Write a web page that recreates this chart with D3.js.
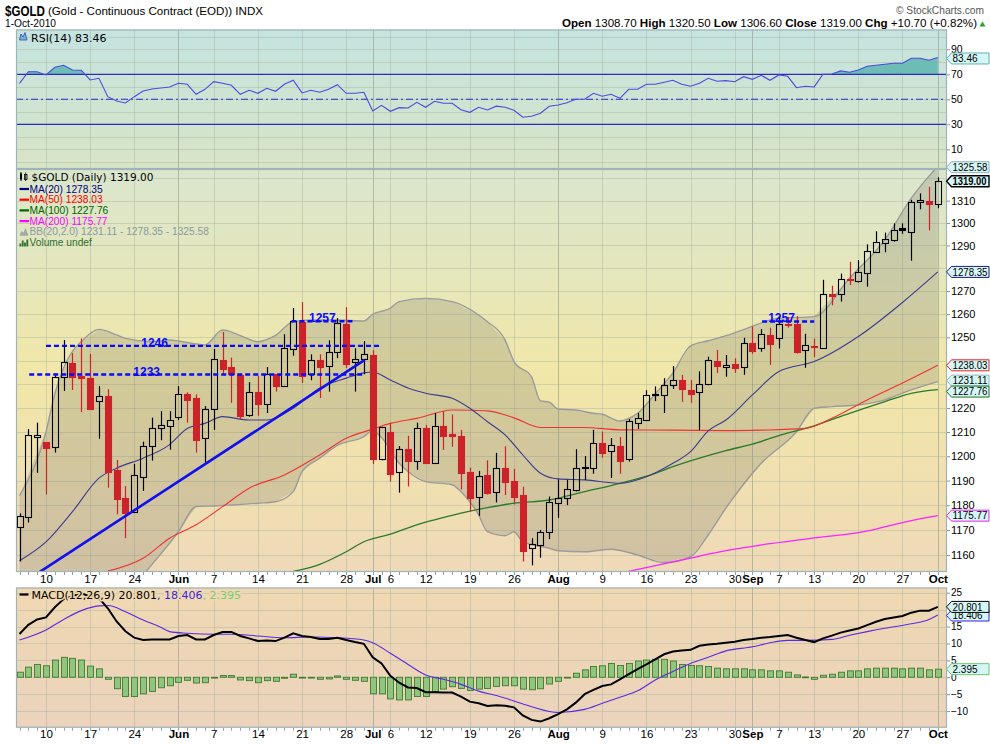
<!DOCTYPE html>
<html><head><meta charset="utf-8">
<script src="https://cdn.jsdelivr.net/npm/d3@7"></script>
<style>body{margin:0;background:#fff}svg{display:block}</style>
</head><body>
<svg id="c" width="990" height="744"></svg>
<script>
// ---------- DATA ----------
const dates = ["2010-05-05","2010-05-06","2010-05-07","2010-05-10","2010-05-11","2010-05-12","2010-05-13","2010-05-14","2010-05-17","2010-05-18","2010-05-19","2010-05-20","2010-05-21","2010-05-24","2010-05-25","2010-05-26","2010-05-27","2010-05-28",
"2010-06-01","2010-06-02","2010-06-03","2010-06-04","2010-06-07","2010-06-08","2010-06-09","2010-06-10","2010-06-11","2010-06-14","2010-06-15","2010-06-16","2010-06-17","2010-06-18","2010-06-21","2010-06-22","2010-06-23","2010-06-24","2010-06-25","2010-06-28","2010-06-29","2010-06-30",
"2010-07-01","2010-07-02","2010-07-06","2010-07-07","2010-07-08","2010-07-09","2010-07-12","2010-07-13","2010-07-14","2010-07-15","2010-07-16","2010-07-19","2010-07-20","2010-07-21","2010-07-22","2010-07-23","2010-07-26","2010-07-27","2010-07-28","2010-07-29","2010-07-30",
"2010-08-02","2010-08-03","2010-08-04","2010-08-05","2010-08-06","2010-08-09","2010-08-10","2010-08-11","2010-08-12","2010-08-13","2010-08-16","2010-08-17","2010-08-18","2010-08-19","2010-08-20","2010-08-23","2010-08-24","2010-08-25","2010-08-26","2010-08-27","2010-08-30","2010-08-31",
"2010-09-01","2010-09-02","2010-09-03","2010-09-07","2010-09-08","2010-09-09","2010-09-10","2010-09-13","2010-09-14","2010-09-15","2010-09-16","2010-09-17","2010-09-20","2010-09-21","2010-09-22","2010-09-23","2010-09-24","2010-09-27","2010-09-28","2010-09-29","2010-09-30",
"2010-10-01"];

const open = [1171.3,1175.1,1208.0,1205.9,1203.7,1232.9,1238.9,1233.6,1232.5,1222.8,1225.0,1194.2,1182.9,1177.3,1191.5,1204.1,1211.6,1212.4,1216.1,1225.7,1224.1,1207.4,1219.8,1240.2,1237.3,1233.9,1216.9,1226.6,1221.6,1234.2,1229.3,1245.0,1256.5,1234.5,1240.2,1237.9,1243.5,1255.7,1239.5,1240.5,1242.4,1199.0,1210.0,1193.4,1202.9,1198.2,1211.6,1197.4,1212.4,1209.1,1208.5,1193.4,1183.5,1192.4,1185.5,1195.3,1190.0,1184.3,1162.6,1163.8,1169.0,1180.8,1182.8,1186.0,1195.0,1195.2,1205.3,1202.1,1204.1,1198.8,1213.8,1214.9,1226.0,1225.3,1229.5,1232.0,1227.5,1226.6,1230.2,1239.7,1237.5,1238.4,1237.4,1247.4,1245.2,1251.1,1249.8,1255.8,1255.7,1244.4,1246.3,1245.5,1268.6,1268.6,1275.1,1274.3,1278.0,1287.0,1291.2,1292.3,1297.6,1296.1,1309.4,1309.9,1308.7];
const high = [1176.7,1211.2,1213.9,1205.9,1234.5,1248.8,1243.2,1249.5,1242.9,1229.2,1227.9,1198.5,1187.8,1196.9,1206.0,1216.0,1218.7,1218.7,1229.2,1226.6,1225.7,1220.8,1245.0,1252.3,1241.3,1234.7,1230.9,1233.6,1237.3,1234.2,1251.3,1262.6,1265.2,1242.7,1242.7,1248.7,1258.2,1263.0,1245.3,1248.4,1244.5,1212.0,1213.9,1204.2,1208.4,1213.9,1213.0,1217.9,1218.7,1217.3,1210.9,1195.3,1194.0,1198.3,1201.4,1204.1,1194.8,1187.5,1166.7,1170.0,1183.5,1190.5,1190.3,1202.9,1200.1,1210.9,1210.2,1207.5,1207.9,1215.4,1218.0,1227.5,1229.1,1232.6,1237.7,1234.0,1231.8,1235.5,1241.7,1244.6,1242.4,1241.0,1249.8,1254.7,1253.5,1254.1,1258.9,1258.8,1259.1,1251.5,1249.4,1274.9,1272.3,1277.6,1282.8,1283.6,1290.5,1296.3,1295.7,1299.8,1299.8,1310.4,1313.3,1316.2,1320.5];
const low = [1157.4,1173.0,1193.2,1184.4,1201.5,1227.2,1227.6,1218.3,1219.5,1207.2,1187.1,1176.3,1166.7,1177.0,1185.8,1198.2,1206.6,1202.7,1215.0,1213.9,1201.5,1197.4,1210.9,1234.2,1222.2,1215.3,1216.4,1216.8,1217.9,1226.9,1229.3,1242.1,1230.6,1231.7,1224.2,1226.9,1241.1,1236.8,1226.9,1234.2,1196.8,1198.3,1189.6,1185.1,1187.6,1194.4,1196.8,1196.8,1202.6,1203.9,1186.4,1177.5,1175.7,1184.3,1181.1,1184.1,1180.3,1157.4,1155.9,1158.9,1166.3,1174.9,1180.0,1185.6,1190.3,1192.8,1199.4,1191.1,1192.8,1197.8,1211.3,1214.9,1222.9,1217.9,1228.0,1222.6,1222.2,1210.8,1229.6,1234.7,1233.2,1234.8,1234.0,1242.9,1243.8,1238.2,1245.2,1254.1,1243.0,1237.0,1241.5,1245.2,1263.8,1265.4,1272.6,1273.7,1271.9,1286.7,1287.0,1291.7,1295.2,1283.3,1306.1,1296.7,1306.6];
const close = [1175.6,1208.7,1208.8,1203.2,1232.9,1239.3,1232.9,1232.7,1219.5,1224.9,1193.6,1182.6,1176.9,1192.1,1204.1,1211.5,1212.8,1214.9,1225.7,1223.5,1206.8,1219.8,1240.7,1236.6,1234.2,1216.8,1226.6,1221.6,1234.5,1229.3,1245.3,1256.9,1233.7,1240.2,1237.3,1243.5,1256.0,1238.6,1240.5,1242.7,1199.0,1212.0,1192.8,1202.9,1198.2,1211.6,1197.4,1212.4,1208.5,1208.3,1193.3,1182.9,1192.0,1185.1,1195.3,1189.6,1183.3,1161.7,1164.2,1169.0,1181.2,1182.8,1186.6,1195.2,1195.4,1205.3,1201.5,1204.5,1198.2,1214.6,1215.7,1225.5,1225.6,1229.5,1232.0,1227.9,1226.0,1230.2,1240.2,1237.9,1238.1,1237.0,1247.4,1244.3,1251.4,1247.1,1255.6,1255.2,1243.8,1246.6,1245.8,1268.6,1268.0,1275.3,1274.7,1278.2,1287.4,1291.4,1292.7,1296.7,1296.9,1309.3,1310.3,1308.3,1319.0];

// overlays (read at sampled trading-day indices)
const ma20Idx = [0,3,6,9,11,14,17,19,21,23,26,28,31,34,37,39,40,42,44,46,49,51,53,55,57,59,61,64,68,71,74,76,78,80,83,86,90,95,100,104];
const ma20Val = [1157.7,1165.2,1177.4,1191.0,1195.1,1199.2,1204.8,1211.5,1213.6,1216.4,1215.0,1215.0,1219.9,1228.4,1232.6,1234.8,1235.2,1231.8,1228.4,1226.2,1224.1,1219.9,1214.3,1208.8,1200.5,1193.0,1190.7,1190.3,1188.9,1191.6,1197.1,1201.9,1210.5,1215.0,1225.5,1235.4,1239.6,1250.3,1265.0,1278.35];
const ma50Idx = [10,14,17,20,23,26,30,34,37,40,42,45,49,51,53,56,59,64,68,74,80,84,89,92,96,100,104];
const ma50Val = [1153.6,1158.7,1166.7,1172.1,1179.4,1186.9,1192.3,1200.5,1207.4,1211.2,1213.6,1215.7,1219.2,1219.1,1218.8,1215.9,1211.9,1211.9,1210.9,1210.8,1210.6,1210.8,1211.5,1215.7,1223.4,1230.5,1238.03];
const ma100Idx = [31,34,37,39,42,45,47,50,53,56,60,64,68,72,74,77,80,83,86,90,94,98,101,104];
const ma100Val = [1153.5,1156.3,1161.3,1165.3,1168.3,1172.1,1174.1,1176.8,1179.0,1180.8,1182.1,1185.5,1188.9,1193.0,1195.7,1199.2,1202.3,1205.0,1208.5,1212.6,1217.8,1222.7,1226.2,1227.76];
const ma200Idx = [69,72,76,80,85,90,95,101,104];
const ma200Val = [1153.5,1155.8,1158.8,1161.7,1164.5,1166.8,1168.9,1173.8,1175.77];
const bbUpIdx = [0,3,4,5,6,7,9,11,12,15,17,18,21,23,25,27,29,31,33,36,39,40,42,43,46,49,52,53,55,56,58,59,60,61,63,65,66,68,70,72,74,76,78,80,82,86,90,94,98,101,104];
const bbUpVal = [1183.9,1210.1,1226.0,1237.0,1244.0,1248.1,1253.4,1251.0,1249.5,1248.1,1248.8,1248.4,1246.7,1253.1,1250.7,1248.1,1250.8,1256.7,1257.4,1257.4,1257.0,1259.9,1262.5,1265.4,1266.8,1265.4,1259.6,1256.7,1248.8,1239.6,1233.0,1223.0,1222.5,1219.6,1219.2,1217.8,1217.4,1214.6,1217.8,1226.0,1234.8,1246.3,1248.5,1250.7,1253.3,1258.2,1258.9,1275.6,1292.5,1311.1,1325.58];
const bbLoIdx = [0,3,6,9,11,14,18,20,22,24,27,29,31,32,34,36,39,40,41,43,44,46,49,50,52,53,55,56,57,60,61,64,67,70,73,76,78,80,84,88,90,92,95,98,99,101,104];
const bbLoVal = [1132.0,1120.0,1110.0,1129.0,1139.0,1152.0,1169.3,1179.4,1179.7,1180.1,1180.8,1181.4,1185.5,1193.7,1199.2,1204.5,1208.1,1210.6,1207.7,1197.1,1193.7,1189.6,1188.3,1185.5,1176.1,1169.3,1167.7,1169.3,1165.3,1162.7,1161.7,1161.3,1162.3,1160.0,1157.0,1159.3,1168.0,1178.8,1197.1,1210.1,1219.9,1220.6,1221.3,1223.4,1224.8,1227.6,1231.11];

// indicators
const rsi = [62.8,72.1,72.1,69.5,75.6,77.2,73.5,73.2,65.5,66.8,52.1,48.7,47.1,52.1,56.7,58.3,59.1,59.9,62.8,62.0,54.0,58.0,64.1,62.8,61.2,54.0,57.2,54.8,58.8,56.4,62.0,65.2,55.1,57.2,55.6,58.0,61.7,54.8,54.8,55.6,40.7,45.2,40.4,43.3,43.1,47.6,43.6,48.4,46.8,46.8,41.7,39.6,43.6,41.5,44.5,43.6,41.2,35.7,36.4,38.8,44.4,45.5,47.3,50.0,50.0,54.8,52.4,54.0,50.8,58.0,58.0,62.0,62.0,63.6,65.2,62.0,60.4,62.8,66.8,64.4,64.9,64.1,68.1,66.0,69.2,65.2,69.5,68.4,59.3,60.4,59.9,70.0,70.3,72.7,71.6,73.5,76.4,77.2,78.0,78.8,78.8,82.8,82.8,81.2,83.46];
const macd = [12.8,15.5,17.1,17.7,20.7,23.1,24.0,24.8,23.9,23.4,20.4,16.5,13.6,11.7,11.0,11.2,11.2,11.2,12.2,12.5,11.2,11.2,12.5,13.4,13.4,12.2,11.5,10.7,10.9,10.7,11.7,13.0,12.2,11.9,11.3,11.3,11.7,11.0,10.4,9.9,5.9,4.1,0.4,-1.6,-3.0,-3.2,-4.4,-4.4,-4.5,-4.5,-5.7,-7.2,-7.7,-8.5,-8.3,-8.4,-8.9,-11.3,-12.6,-13.1,-12.1,-10.9,-9.5,-7.5,-5.0,-3.7,-2.6,-2.1,-0.6,0.9,2.4,3.8,5.3,6.8,7.6,7.9,8.1,9.3,9.7,9.9,10.2,10.5,11.0,11.3,11.7,11.9,12.2,12.5,11.7,11.0,10.4,11.5,12.3,13.2,13.8,14.4,15.4,16.4,17.2,17.7,18.1,19.1,19.7,19.7,20.801];
const macdHist = [1.5,3.0,3.8,3.4,5.1,5.9,5.6,5.1,3.3,2.5,-0.6,-3.4,-5.7,-5.7,-4.9,-4.2,-3.1,-2.5,-1.5,-0.9,-1.7,-1.6,-0.1,0.5,0.5,-0.8,-1.0,-1.6,-1.0,-1.2,-0.3,0.9,-0.1,-0.1,-0.6,-0.5,0.4,-0.6,-0.9,-1.2,-4.9,-4.9,-6.4,-6.7,-6.7,-5.7,-5.7,-4.2,-3.5,-2.8,-3.3,-3.9,-3.5,-3.3,-2.7,-2.5,-2.5,-3.5,-3.7,-3.4,-2.0,-1.2,-0.1,1.2,2.2,3.2,3.4,4.1,3.5,4.1,4.8,5.1,5.3,5.3,4.8,3.8,3.5,3.4,3.2,2.7,2.5,2.5,2.5,2.2,2.2,1.9,1.9,1.5,0.7,0.1,-0.6,0.6,0.9,1.5,1.9,1.9,2.5,2.7,2.7,2.7,2.5,2.7,2.7,2.2,2.395];
const sigIdx = [0,3,5,7,9,10,12,14,16,17,19,22,24,27,30,33,36,39,40,42,44,46,48,50,52,54,56,58,61,64,66,68,70,72,74,76,78,80,83,85,87,89,92,94,96,98,101,103,104];
const sigVal = [11.0,14.0,17.1,19.7,21.1,21.2,19.4,16.9,14.8,13.5,13.0,12.7,12.7,12.2,11.7,11.9,11.7,11.0,10.2,7.1,3.8,0.7,-0.6,-2.1,-4.1,-5.4,-7.0,-8.7,-10.4,-9.5,-7.7,-5.9,-4.0,-0.8,1.7,4.1,5.9,7.8,9.0,10.2,10.9,10.9,11.2,12.4,13.5,14.5,15.8,17.1,18.406];

// axis ticks
const tickDates = ["2010-05-10","2010-05-17","2010-05-24","2010-06-01","2010-06-07","2010-06-14","2010-06-21","2010-06-28","2010-07-01","2010-07-06","2010-07-12","2010-07-19","2010-07-26","2010-08-02","2010-08-09","2010-08-16","2010-08-23","2010-08-30","2010-09-01","2010-09-07","2010-09-13","2010-09-20","2010-09-27","2010-10-01"];
const tickLabels = ["10","17","24","Jun","7","14","21","28","Jul","6","12","19","26","Aug","9","16","23","30","Sep","7","13","20","27","Oct"];
const priceTicks = [1160,1170,1180,1190,1200,1210,1220,1250,1260,1270,1290,1300,1310];
const rsiTicks = [10,30,50,70,90];
const macdTicks = [-10,-5,0,5,10,15,25];

// annotations (price levels drawn by the chartist, and trendline)
const levelLabels = ["1246","1233","1257","1257"];
const levelPrice = [1246.3,1234.1,1256.9,1256.8];
const levelFrom = [3.0,1.1,30.8,84.1];
const levelTo = [40.8,38.9,38.0,90.0];
const levelLabelAt = [15.3,14.4,34.3,86.3];
const trendIdx = [2.13,39.1];
const trendVal = [1152.9,1240.3];

// ---------- LAYOUT ----------
const svg = d3.select('#c');
const X0 = 16, X1 = 947;
const P = {rsi:{t:29.5,b:169}, main:{t:169,b:572}, macd:{t:587.5,b:727.7}};
const x = d3.scaleLinear().domain([0,104]).range([19.5,937.8]);
const yRsi = d3.scaleLinear().domain([30,70]).range([124.3,74.3]);
const yMain = d3.scaleLog().domain([1160,1310]).range([555.0,200.65]);
const yMacd = d3.scaleLinear().domain([-10,25]).range([711.1,592.7]);
const tickIdx = tickDates.map(d=>dates.indexOf(d));
const isMonth = tickLabels.map(l=>isNaN(+l));
const SANS = "'Liberation Sans', Arial, sans-serif";
const VERD = "'DejaVu Sans', Verdana, sans-serif";

const defs = svg.append('defs');
function grad(id, stops){
  const g = defs.append('linearGradient').attr('id',id).attr('x1',0).attr('y1',0).attr('x2',0).attr('y2',1);
  stops.forEach(s=>g.append('stop').attr('offset',s[0]).attr('stop-color',s[1]));
}
grad('gRsi',[[0,'#c4e4e0'],[1,'#d8e4c6']]);
grad('gMain',[[0,'#dae6cd'],[0.3,'#e7e7b9'],[0.5,'#f1e7a8'],[0.8,'#f0dfb1'],[1,'#efd9b8']]);
grad('gMacd',[[0,'#efd8b1'],[1,'#ebd3bd']]);
Object.entries(P).forEach(([k,p])=>{
  defs.append('clipPath').attr('id','clip_'+k).append('rect').attr('x',X0).attr('y',p.t).attr('width',X1-X0).attr('height',p.b-p.t);
});

// panel backgrounds
svg.append('rect').attr('x',X0).attr('y',P.rsi.t).attr('width',X1-X0).attr('height',P.rsi.b-P.rsi.t).attr('fill','url(#gRsi)');
svg.append('rect').attr('x',X0).attr('y',P.main.t).attr('width',X1-X0).attr('height',P.main.b-P.main.t).attr('fill','url(#gMain)');
svg.append('rect').attr('x',X0).attr('y',P.macd.t).attr('width',X1-X0).attr('height',P.macd.b-P.macd.t).attr('fill','url(#gMacd)');

// grids
function vgrid(p){
  const g = svg.append('g');
  tickIdx.forEach((ti,k)=>{
    const xx = Math.round(x(ti))+0.5;
    g.append('line').attr('x1',xx).attr('x2',xx).attr('y1',p.t).attr('y2',p.b)
      .attr('stroke',isMonth[k]?'#8f9c8c':'#a9b3a0').attr('stroke-opacity',isMonth[k]?0.6:0.45).attr('stroke-width',1);
  });
}
function hgrid(p, scale, vals){
  const g = svg.append('g');
  vals.forEach(v=>{
    const yy = Math.round(scale(v))+0.5;
    if (yy<p.t||yy>p.b) return;
    g.append('line').attr('x1',X0).attr('x2',X1).attr('y1',yy).attr('y2',yy)
      .attr('stroke','#a9b3a0').attr('stroke-opacity',0.45);
  });
}
vgrid(P.rsi); vgrid(P.main); vgrid(P.macd);
hgrid(P.rsi, yRsi, d3.range(0,101,10));
hgrid(P.main, yMain, d3.range(1160,1321,10));
hgrid(P.macd, yMacd, d3.range(-10,26,5));

// ---------- RSI ----------
const gR = svg.append('g').attr('clip-path','url(#clip_rsi)');
defs.append('clipPath').attr('id','clipAbove70').append('rect').attr('x',X0).attr('y',P.rsi.t).attr('width',X1-X0).attr('height',yRsi(70)-P.rsi.t);
gR.append('path').datum(rsi).attr('clip-path','url(#clipAbove70)')
  .attr('d',d3.area().x((d,i)=>x(i)).y0(yRsi(70)).y1(d=>yRsi(d))).attr('fill','#6dbdb6');
[70,30].forEach(v=>gR.append('line').attr('x1',X0).attr('x2',X1).attr('y1',yRsi(v)).attr('y2',yRsi(v)).attr('stroke','#2b2bc4').attr('stroke-width',1.2));
gR.append('line').attr('x1',X0).attr('x2',X1).attr('y1',yRsi(50)).attr('y2',yRsi(50)).attr('stroke','#2b2bc4').attr('stroke-width',1.1).attr('stroke-dasharray','7,3,2,3');
gR.append('path').datum(rsi).attr('d',d3.line().x((d,i)=>x(i)).y(d=>yRsi(d))).attr('fill','none').attr('stroke','#4a4ae0').attr('stroke-width',1.1);

// ---------- MAIN ----------
const gM = svg.append('g').attr('clip-path','url(#clip_main)');
const up = bbUpIdx.map((d,k)=>[x(d),yMain(bbUpVal[k])]);
const lo = bbLoIdx.map((d,k)=>[x(d),yMain(bbLoVal[k])]);
const smooth = d3.line().curve(d3.curveMonotoneX);
gM.append('path').attr('d',d3.line()(up.concat(lo.slice().reverse()))+'Z').attr('fill','#7d7a6c').attr('fill-opacity',0.26);
gM.append('path').attr('d',smooth(up)).attr('fill','none').attr('stroke','#9a9c9c').attr('stroke-width',1.4);
gM.append('path').attr('d',smooth(lo)).attr('fill','none').attr('stroke','#9a9c9c').attr('stroke-width',1.4);
function maLine(idx, val, color, w){
  gM.append('path').attr('d',smooth(idx.map((d,k)=>[x(d),yMain(val[k])]))).attr('fill','none').attr('stroke',color).attr('stroke-width',w||1.1);
}
maLine(ma200Idx, ma200Val, '#ff22ff', 1.3);
maLine(ma100Idx, ma100Val, '#2a7a2a', 1.3);
maLine(ma50Idx, ma50Val, '#ee3333', 1.1);
maLine(ma20Idx, ma20Val, '#3c3c90', 1.1);

// candles
const gC = gM.append('g');
close.forEach((c,i)=>{
  const o=open[i], h=high[i], l=low[i];
  const prev = i>0?close[i-1]:c;
  const col = c>=prev ? '#000000' : '#cc2229';
  const filled = c<o;
  const xx = Math.round(x(i))+0.5;
  const yTop = yMain(Math.max(o,c)), yBot = yMain(Math.min(o,c));
  let bt = Math.round(yTop)+0.5, bb = Math.max(Math.round(yBot)+0.5, bt+1);
  gC.append('line').attr('x1',xx).attr('x2',xx).attr('y1',yMain(h)).attr('y2',bt).attr('stroke',col).attr('stroke-width',1.2);
  gC.append('line').attr('x1',xx).attr('x2',xx).attr('y1',bb).attr('y2',yMain(l)).attr('stroke',col).attr('stroke-width',1.2);
  gC.append('rect').attr('x',xx-3).attr('y',bt).attr('width',6).attr('height',bb-bt)
    .attr('fill',filled?col:'none').attr('stroke',col).attr('stroke-width',1.1);
});

// annotations
levelPrice.forEach((p,k)=>{
  gM.append('line').attr('x1',x(levelFrom[k])).attr('x2',x(levelTo[k])).attr('y1',yMain(p)).attr('y2',yMain(p))
    .attr('stroke','#0a0aff').attr('stroke-width',2.4).attr('stroke-dasharray','5,3');
  gM.append('text').attr('x',x(levelLabelAt[k])).attr('y',yMain(p)+1).attr('text-anchor','middle')
    .attr('font-family',SANS).attr('font-weight','bold').attr('font-size',12).attr('fill','#0a0aff').text(levelLabels[k]);
});
gM.append('line').attr('x1',x(trendIdx[0])).attr('y1',yMain(trendVal[0])).attr('x2',x(trendIdx[1])).attr('y2',yMain(trendVal[1]))
  .attr('stroke','#1010ee').attr('stroke-width',2.6);

// ---------- MACD ----------
const gD = svg.append('g').attr('clip-path','url(#clip_macd)');
macdHist.forEach((v,i)=>{
  const y0 = yMacd(0), y1 = yMacd(v);
  gD.append('rect').attr('x',Math.round(x(i))-2.5).attr('y',Math.min(y0,y1)).attr('width',6).attr('height',Math.max(Math.abs(y1-y0),0.8))
    .attr('fill','#8fc57c').attr('stroke','#3f7a30').attr('stroke-width',0.9);
});
gD.append('path').attr('d',smooth(sigIdx.map((d,k)=>[x(d),yMacd(sigVal[k])]))).attr('fill','none').attr('stroke','#5a2be0').attr('stroke-width',1.1);
gD.append('path').datum(macd).attr('d',d3.line().x((d,i)=>x(i)).y(d=>yMacd(d))).attr('fill','none').attr('stroke','#000').attr('stroke-width',2);

// panel borders
Object.values(P).forEach(p=>{
  svg.append('rect').attr('x',X0+0.5).attr('y',p.t+0.5).attr('width',X1-X0-1).attr('height',p.b-p.t-1)
    .attr('fill','none').attr('stroke','#9fb3ba').attr('stroke-width',1.2);
});

// day ticks under main and macd
[P.main.b, P.macd.b].forEach(yb=>{
  close.forEach((c,i)=>svg.append('line').attr('x1',Math.round(x(i))+0.5).attr('x2',Math.round(x(i))+0.5).attr('y1',yb).attr('y2',yb+3).attr('stroke','#8fa5ad'));
});

// x axes
function xAxis(y){
  const g = svg.append('g').attr('transform',`translate(0,${y})`)
    .call(d3.axisBottom(x).tickValues(tickIdx).tickSize(0).tickPadding(0).tickFormat((d,k)=>tickLabels[k]));
  g.select('.domain').remove();
  g.attr('font-family',SANS).attr('font-size',11.5);
  g.selectAll('text').attr('fill','#000').attr('dy','0.71em').attr('font-weight',(d,k)=>isMonth[k]?'bold':'normal');
}
xAxis(574.5); xAxis(729.5);

// right axes
function rAxis(scale, vals, fs){
  const g = svg.append('g').attr('transform',`translate(${X1},0)`)
    .call(d3.axisRight(scale).tickValues(vals).tickSize(3).tickPadding(1).tickFormat(d3.format('d')));
  g.select('.domain').remove();
  g.attr('font-family',SANS).attr('font-size',fs||11);
  g.selectAll('text').attr('fill','#000');
  g.selectAll('line').attr('stroke','#7f9ca6');
}
rAxis(yRsi, rsiTicks, 10.5); rAxis(yMain, priceTicks); rAxis(yMacd, macdTicks, 10);

// value boxes
function vbox(y, txt, stroke, bold){
  const g = svg.append('g');
  g.append('path').attr('d',`M${X1-0.5},${y} L${X1+4.5},${y-5.5} L989,${y-5.5} L989,${y+5.5} L${X1+4.5},${y+5.5} Z`)
    .attr('fill','#d6f6f6').attr('stroke',stroke).attr('stroke-width',bold?1.4:1);
  g.append('text').attr('x',X1+5.5).attr('y',y+3.6).attr('font-family',SANS).attr('font-size',bold?10.5:10)
    .attr('font-weight',bold?'bold':'normal').attr('fill','#000')
    .attr('textLength',txt.length*(bold?4.85:5.0)).attr('lengthAdjust','spacingAndGlyphs').text(txt);
}
vbox(yRsi(83.46)+1,'83.46','#5fb3b3');
vbox(yMain(1325.58)+1,'1325.58','#8fb3b8');
vbox(yMain(1319.00)+0.5,'1319.00','#000',true);
vbox(yMain(1278.35),'1278.35','#1a1a8a');
vbox(yMain(1238.03),'1238.03','#ee2222');
vbox(yMain(1231.11)-1,'1231.11','#8fb3b8');
vbox(yMain(1227.76)+2,'1227.76','#1c6e1c');
vbox(yMain(1175.77),'1175.77','#ee22ee');
vbox(yMacd(18.406)+0.5,'18.406','#3a1ee0');
vbox(yMacd(20.801),'20.801','#000');
vbox(yMacd(2.395),'2.395','#66cc66');

// ---------- LEGENDS ----------
function halo(sel, color){ return sel.attr('stroke',color).attr('stroke-width',3).attr('paint-order','stroke').attr('stroke-linejoin','round'); }
// RSI legend
svg.append('path').attr('d','M19.5,40 L21,34 L23,37 L25,32.5 L27,40 Z').attr('fill','#6dbdb6').attr('stroke','#3a3ad0').attr('stroke-width',0.8);
halo(svg.append('text').attr('x',31).attr('y',41.5).attr('font-family',VERD).attr('font-size',11).attr('fill','#000').text('RSI(14) 83.46'),'#c6e5e0');

// main legend
const lg = svg.append('g');
lg.append('rect').attr('x',20).attr('y',173.5).attr('width',2).attr('height',6).attr('fill','#000');
lg.append('line').attr('x1',21).attr('x2',21).attr('y1',172).attr('y2',181).attr('stroke','#000');
lg.append('rect').attr('x',24.5).attr('y',174.5).attr('width',2.5).attr('height',5).attr('fill','none').attr('stroke','#000').attr('stroke-width',0.8);
lg.append('line').attr('x1',25.7).attr('x2',25.7).attr('y1',172.5).attr('y2',181).attr('stroke','#000').attr('stroke-width',0.8);
halo(lg.append('text').attr('x',31.5).attr('y',180.5).attr('font-family',VERD).attr('font-size',10.5).attr('fill','#000').text('$GOLD (Daily) 1319.00'),'#dae6cd');
const legRows = [
  ['MA(20) 1278.35','#000080','line'],
  ['MA(50) 1238.03','#ff0000','line'],
  ['MA(100) 1227.76','#006400','line'],
  ['MA(200) 1175.77','#ff00ff','line'],
  ['BB(20,2.0) 1231.11 - 1278.35 - 1325.58','#8a9a9e','bb'],
  ['Volume undef','#2f6f2f','vol']
];
legRows.forEach((r,k)=>{
  const cy = 189 + k*10.7;
  if (r[2]==='line') lg.append('line').attr('x1',19.5).attr('x2',29).attr('y1',cy).attr('y2',cy).attr('stroke',r[1]).attr('stroke-width',2.2);
  if (r[2]==='bb') lg.append('path').attr('d',`M19.5,${cy+4} L21.5,${cy-1} L23.5,${cy+1} L25.5,${cy-4} L28.5,${cy+4} Z`).attr('fill','#a4aaa8');
  if (r[2]==='vol') [[19.5,3],[21.8,6],[24.1,4],[26.4,7]].forEach(b=>lg.append('rect').attr('x',b[0]).attr('y',cy+4-b[1]).attr('width',1.8).attr('height',b[1]).attr('fill','#2f6f2f'));
  lg.append('text').attr('x',29.5).attr('y',cy+3.6).attr('font-family',SANS).attr('font-size',10.2).attr('fill',r[1]).text(r[0]);
});

// MACD legend
svg.append('line').attr('x1',19.5).attr('x2',28.5).attr('y1',594.5).attr('y2',594.5).attr('stroke','#000').attr('stroke-width',2.2);
const mt = halo(svg.append('text').attr('x',31.5).attr('y',598.5).attr('font-family',VERD).attr('font-size',11),'#efd8b1');
mt.append('tspan').attr('fill','#000').text('MACD(12,26,9) 20.801');
mt.append('tspan').attr('fill','#3a1ee0').text(', 18.406');
mt.append('tspan').attr('fill','#77cc77').text(', 2.395');

// ---------- HEADER ----------
const NARROW = "'Liberation Sans Narrow','Arial Narrow','Liberation Sans',Arial,sans-serif";
svg.append('text').attr('x',5).attr('y',15.5).attr('font-family',NARROW).attr('font-weight','bold').attr('font-size',15)
  .attr('textLength',40).attr('lengthAdjust','spacingAndGlyphs').text('$GOLD');
svg.append('text').attr('x',48).attr('y',15).attr('font-family',NARROW).attr('font-size',11)
  .attr('textLength',215).attr('lengthAdjust','spacingAndGlyphs').text('(Gold - Continuous Contract (EOD))  INDX');
svg.append('text').attr('x',5).attr('y',27).attr('font-family',NARROW).attr('font-size',11)
  .attr('textLength',51).attr('lengthAdjust','spacingAndGlyphs').text('1-Oct-2010');
svg.append('text').attr('x',896).attr('y',14).attr('font-family',NARROW).attr('font-size',10.5).attr('fill','#555')
  .attr('textLength',88).attr('lengthAdjust','spacingAndGlyphs').text('© StockCharts.com');
const hd = svg.append('text').attr('x',562).attr('y',27).attr('font-family',NARROW).attr('font-size',11.5)
  .attr('textLength',415).attr('lengthAdjust','spacingAndGlyphs');
[['Open',1],[' 1308.70 ',0],['High',1],[' 1320.50 ',0],['Low',1],[' 1306.60 ',0],['Close',1],[' 1319.00 ',0],['Chg',1],[' +10.70 (+0.82%)',0]]
  .forEach(s=>hd.append('tspan').attr('font-weight',s[1]?'bold':'normal').text(s[0]));
svg.append('path').attr('d','M979.5,26.5 L985.5,26.5 L982.5,21.5 Z').attr('fill','#22aa22');
</script>
</body></html>
